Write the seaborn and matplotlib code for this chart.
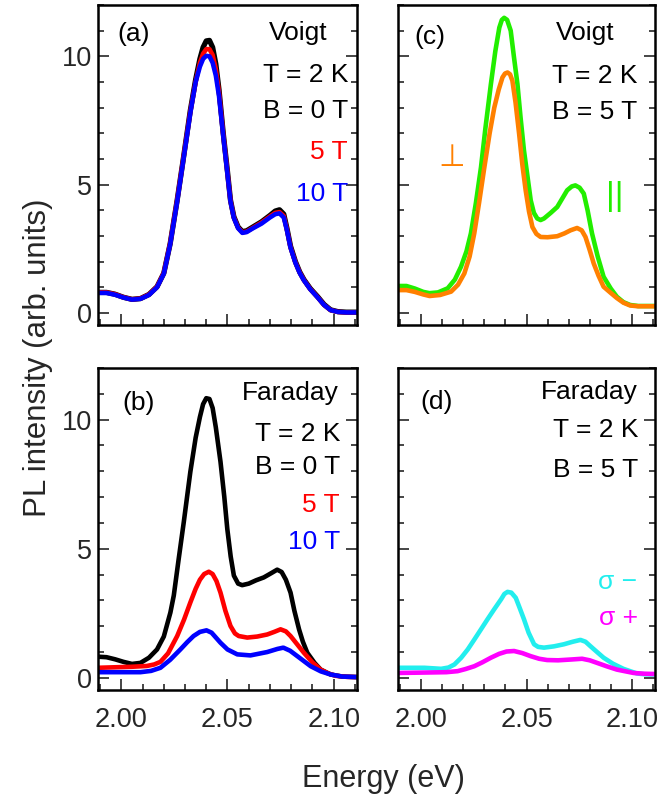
import numpy as np
import pandas as pd
import matplotlib
matplotlib.use("Agg")
import matplotlib.pyplot as plt
from matplotlib.ticker import MultipleLocator
import seaborn as sns

# ---------------- data ----------------
# (a) Voigt, B = 0, 5, 10 T
x_a = [1.989, 1.993, 1.997, 2.001, 2.005, 2.009, 2.013, 2.0168, 2.020, 2.023,
       2.0263, 2.029, 2.0325, 2.035, 2.037, 2.0385, 2.040, 2.0415, 2.043, 2.0445,
       2.046, 2.048, 2.050, 2.0514, 2.053, 2.055, 2.057, 2.059, 2.062, 2.066,
       2.070, 2.0725, 2.0745, 2.0765, 2.078, 2.0797, 2.082, 2.084, 2.086, 2.089,
       2.0924, 2.0955, 2.0986, 2.102, 2.106, 2.111]
black_a = [0.80, 0.80, 0.73, 0.61, 0.53, 0.56, 0.72, 1.02, 1.55, 2.70,
           4.40, 5.90, 7.90, 9.10, 9.90, 10.35, 10.60, 10.62, 10.35, 9.70,
           8.70, 7.00, 5.50, 4.40, 3.75, 3.35, 3.17, 3.20, 3.35, 3.55,
           3.80, 3.97, 4.02, 3.85, 3.30, 2.60, 2.00, 1.60, 1.30, 0.95,
           0.64, 0.33, 0.12, 0.05, 0.03, 0.03]
red_a = [0.80, 0.80, 0.73, 0.61, 0.53, 0.56, 0.72, 1.02, 1.56, 2.72,
         4.40, 5.90, 7.85, 9.00, 9.75, 10.10, 10.28, 10.28, 10.05, 9.50,
         8.60, 6.95, 5.45, 4.38, 3.72, 3.32, 3.14, 3.17, 3.32, 3.52,
         3.76, 3.90, 3.93, 3.78, 3.25, 2.56, 1.97, 1.58, 1.28, 0.93,
         0.62, 0.31, 0.11, 0.04, 0.02, 0.02]
blue_a = [0.78, 0.78, 0.71, 0.60, 0.52, 0.55, 0.70, 1.00, 1.53, 2.68,
          4.35, 5.85, 7.80, 9.00, 9.60, 9.90, 10.02, 10.00, 9.75, 9.25,
          8.45, 6.90, 5.40, 4.35, 3.70, 3.30, 3.12, 3.15, 3.30, 3.48,
          3.72, 3.85, 3.88, 3.72, 3.22, 2.54, 1.95, 1.56, 1.27, 0.92,
          0.61, 0.31, 0.11, 0.04, 0.02, 0.02]

# (b) Faraday, B = 0, 5, 10 T
x_bk_b = [1.989, 1.993, 1.997, 2.001, 2.005, 2.009, 2.013, 2.0168, 2.020, 2.0231,
          2.0247, 2.027, 2.0294, 2.0325, 2.035, 2.037, 2.0385, 2.040, 2.0415, 2.043,
          2.0445, 2.0467, 2.0485, 2.0499, 2.0515, 2.053, 2.055, 2.0569, 2.060, 2.0635,
          2.0671, 2.0705, 2.0734, 2.0755, 2.0775, 2.0797, 2.0815, 2.0837, 2.0855, 2.0876,
          2.091, 2.0939, 2.0986, 2.104, 2.111]
black_b = [0.82, 0.80, 0.72, 0.62, 0.54, 0.58, 0.78, 1.10, 1.60, 2.53,
           3.19, 4.60, 6.03, 7.98, 9.30, 10.10, 10.60, 10.83, 10.80, 10.45,
           9.70, 8.37, 7.00, 5.77, 4.70, 3.96, 3.65, 3.59, 3.65, 3.78,
           3.89, 4.05, 4.19, 4.10, 3.80, 3.30, 2.60, 1.88, 1.40, 0.97,
           0.58, 0.32, 0.13, 0.05, 0.03]
x_rd_b = [1.989, 1.997, 2.005, 2.012, 2.0155, 2.0184, 2.022, 2.0263, 2.0295, 2.0325,
          2.035, 2.037, 2.039, 2.0412, 2.043, 2.0448, 2.0467, 2.049, 2.0514, 2.0535,
          2.0553, 2.0593, 2.064, 2.0687, 2.072, 2.075, 2.0775, 2.0797, 2.083, 2.086,
          2.090, 2.0939, 2.0975, 2.101, 2.106, 2.111]
red_b = [0.39, 0.41, 0.43, 0.46, 0.52, 0.62, 0.95, 1.62, 2.25, 2.92,
         3.45, 3.80, 4.02, 4.11, 4.02, 3.75, 3.30, 2.60, 2.01, 1.72,
         1.62, 1.56, 1.60, 1.68, 1.78, 1.88, 1.80, 1.62, 1.28, 0.97,
         0.60, 0.32, 0.17, 0.08, 0.04, 0.03]
x_bl_b = [1.989, 2.000, 2.009, 2.014, 2.0184, 2.023, 2.0278, 2.031, 2.034, 2.037,
          2.0401, 2.0425, 2.0467, 2.050, 2.0546, 2.0608, 2.0687, 2.0735, 2.0763, 2.0795,
          2.0829, 2.0892, 2.094, 2.0986, 2.104, 2.111]
blue_b = [0.22, 0.22, 0.22, 0.27, 0.39, 0.70, 1.10, 1.38, 1.62, 1.78,
          1.84, 1.75, 1.36, 1.10, 0.91, 0.87, 1.00, 1.12, 1.17, 1.05,
          0.84, 0.45, 0.25, 0.13, 0.05, 0.03]

# (c) Voigt, B = 5 T, parallel / perpendicular
x_gr_c = [1.989, 1.993, 1.997, 2.001, 2.004, 2.008, 2.0126, 2.016, 2.0189, 2.0215,
          2.0236, 2.026, 2.0284, 2.0305, 2.0331, 2.0352, 2.0371, 2.0383, 2.0394, 2.0408,
          2.0425, 2.044, 2.0457, 2.0472, 2.0488, 2.0505, 2.052, 2.0535, 2.0551, 2.0567,
          2.0583, 2.0615, 2.0646, 2.0693, 2.0715, 2.0732, 2.0752, 2.0772, 2.079, 2.0811,
          2.0838, 2.0866, 2.090, 2.0929, 2.096, 2.0992, 2.103, 2.111]
green_c = [1.05, 1.05, 0.95, 0.82, 0.77, 0.80, 0.96, 1.30, 1.80, 2.40,
           3.10, 4.30, 5.68, 7.20, 8.92, 10.20, 11.12, 11.42, 11.50, 11.42,
           11.00, 10.00, 8.92, 7.60, 6.33, 5.30, 4.39, 3.90, 3.68, 3.62,
           3.68, 3.90, 4.13, 4.78, 4.93, 4.97, 4.88, 4.65, 4.00, 3.10,
           2.20, 1.41, 0.95, 0.63, 0.42, 0.31, 0.27, 0.27]
x_or_c = [1.989, 1.993, 1.997, 2.001, 2.004, 2.009, 2.0142, 2.0175, 2.0205, 2.023,
          2.0252, 2.0275, 2.030, 2.0325, 2.0347, 2.0368, 2.0386, 2.0398, 2.041, 2.0422,
          2.0433, 2.0448, 2.0465, 2.048, 2.0496, 2.0512, 2.0528, 2.0547, 2.0567, 2.060,
          2.0646, 2.068, 2.0709, 2.074, 2.0762, 2.078, 2.080, 2.0819, 2.0842, 2.0866,
          2.090, 2.0929, 2.096, 2.0992, 2.103, 2.111]
orange_c = [0.89, 0.89, 0.82, 0.72, 0.66, 0.70, 0.83, 1.10, 1.54, 2.20,
            3.10, 4.30, 5.68, 7.00, 8.00, 8.70, 9.18, 9.33, 9.37, 9.30,
            9.05, 8.20, 6.98, 5.80, 4.78, 3.95, 3.35, 3.08, 2.96, 2.95,
            2.99, 3.10, 3.22, 3.31, 3.22, 2.96, 2.45, 1.93, 1.45, 1.02,
            0.78, 0.58, 0.40, 0.29, 0.26, 0.26]

# (d) Faraday, B = 5 T, sigma- / sigma+
x_cy_d = [1.989, 2.0016, 2.0095, 2.013, 2.0158, 2.019, 2.0221, 2.0252, 2.0284, 2.0315,
          2.0347, 2.038, 2.0395, 2.041, 2.0428, 2.0449, 2.0468, 2.0488, 2.051, 2.0536,
          2.0555, 2.0583, 2.063, 2.0677, 2.072, 2.0756, 2.078, 2.0803, 2.0835, 2.0866,
          2.091, 2.096, 2.1024, 2.106, 2.111]
cyan_d = [0.39, 0.39, 0.35, 0.40, 0.52, 0.78, 1.10, 1.48, 1.88, 2.27,
          2.66, 3.05, 3.25, 3.33, 3.30, 3.10, 2.70, 2.27, 1.75, 1.30,
          1.20, 1.17, 1.22, 1.30, 1.40, 1.47, 1.40, 1.23, 1.00, 0.78,
          0.55, 0.35, 0.17, 0.14, 0.13]
x_mg_d = [1.989, 2.005, 2.012, 2.0173, 2.021, 2.0252, 2.029, 2.0331, 2.037, 2.0405,
          2.0441, 2.048, 2.052, 2.056, 2.0598, 2.065, 2.071, 2.0764, 2.080, 2.0835,
          2.088, 2.0929, 2.1008, 2.106, 2.111]
magenta_d = [0.19, 0.21, 0.22, 0.26, 0.34, 0.45, 0.60, 0.78, 0.93, 1.02,
             1.04, 0.96, 0.84, 0.74, 0.69, 0.68, 0.71, 0.74, 0.68, 0.58,
             0.45, 0.32, 0.19, 0.16, 0.15]

x_ticks = [2.00, 2.05, 2.10]
x_ticklabels = ["2.00", "2.05", "2.10"]
y_ticks = [0, 5, 10]

# ---------------- style ----------------
sns.set_theme(style="ticks")
plt.rcParams['font.family'] = ['Liberation Sans', 'DejaVu Sans']
plt.rcParams['axes.linewidth'] = 1.8

fig = plt.figure(figsize=(6.63, 8.0), dpi=100)
W, H = 663.0, 800.0


def make_ax(l, r, t, b):
    return fig.add_axes([l / W, 1 - b / H, (r - l) / W, (b - t) / H])


ax_a = make_ax(98, 357, 5, 325)
ax_c = make_ax(398, 655, 5, 325)
ax_b = make_ax(98, 357, 368, 690)
ax_d = make_ax(398, 655, 368, 690)

LW = 3.3


def draw(ax, x, y, color, lw=LW):
    df = pd.DataFrame({"E": x, "I": y})
    sns.lineplot(data=df, x="E", y="I", ax=ax, color=color, lw=lw,
                 sort=False, solid_capstyle="butt", solid_joinstyle="round")


draw(ax_a, x_a, black_a, "black", 3.8)
draw(ax_a, x_a, red_a, "#ff0000")
draw(ax_a, x_a, blue_a, "#0000ff")

draw(ax_b, x_bk_b, black_b, "black")
draw(ax_b, x_rd_b, red_b, "#ff0000")
draw(ax_b, x_bl_b, blue_b, "#0000ff")

draw(ax_c, x_gr_c, green_c, "#22ee00")
draw(ax_c, x_or_c, orange_c, "#ff8000")

draw(ax_d, x_cy_d, cyan_d, "#22eeee")
draw(ax_d, x_mg_d, magenta_d, "#ff00ff")

TICK_FS = 19.5
for ax in (ax_a, ax_b, ax_c, ax_d):
    ax.set_xlim(1.989, 2.111)
    ax.set_ylim(-0.47, 12.0)
    ax.set_xlabel("")
    ax.set_ylabel("")
    ax.set_xticks(x_ticks)
    ax.xaxis.set_minor_locator(MultipleLocator(0.01))
    ax.set_yticks(y_ticks)
    ax.yaxis.set_minor_locator(MultipleLocator(1))
    ax.tick_params(which="major", direction="in", length=8, width=1.2,
                   labelsize=TICK_FS, right=True, top=False)
    ax.tick_params(which="minor", direction="in", length=4, width=1.2,
                   right=True, top=False)
    ax.tick_params(axis="x", which="major", pad=12)
    ax.tick_params(axis="y", which="major", pad=4)
    for s in ax.spines.values():
        s.set_linewidth(1.8)
        s.set_color("black")

for ax in (ax_a, ax_c):
    ax.set_xticklabels([])
for ax in (ax_c, ax_d):
    ax.set_yticklabels([])
for ax in (ax_b, ax_d):
    ax.set_xticklabels(x_ticklabels)

FS = 19


def ptext(px, py, s, color="black", ha="right", fs=FS):
    # px, py in figure pixel coords
    fig.text(px / W, 1 - py / H, s, color=color, ha=ha, va="center", fontsize=fs)


# panel (a)
ptext(117, 34, "(a)", ha="left")
ptext(298, 33, "Voigt", ha="center")
ptext(348, 75, "T = 2 K")
ptext(348, 111, "B = 0 T")
ptext(348, 152, "5 T", color="#ff0000")
ptext(348, 194, "10 T", color="#0000ff")

# panel (c)
ptext(414, 37, "(c)", ha="left")
ptext(585, 33, "Voigt", ha="center")
ptext(637, 76, "T = 2 K")
ptext(637, 112, "B = 5 T")
ptext(452, 158, "\u22a5", color="#ff8000", ha="center", fs=22)
ptext(615, 196, "||", color="#22ee00", ha="center", fs=24)

# panel (b)
ptext(122, 403, "(b)", ha="left")
ptext(339, 393, "Faraday")
ptext(340, 434, "T = 2 K")
ptext(340, 467, "B = 0 T")
ptext(340, 505, "5 T", color="#ff0000")
ptext(340, 542, "10 T", color="#0000ff")

# panel (d)
ptext(420, 402, "(d)", ha="left")
ptext(638, 392, "Faraday")
ptext(638, 430, "T = 2 K")
ptext(638, 470, "B = 5 T")
ptext(637, 582, "\u03c3 \u2212", color="#22eeee")
ptext(638, 618, "\u03c3 +", color="#ff00ff")

fig.text(383 / W, 1 - 787 / H, "Energy (eV)", ha="center", va="baseline", fontsize=22)
fig.text(38 / W, 1 - 358 / H, "PL intensity (arb. units)", ha="center", va="center",
         rotation=90, fontsize=22.5)

fig.savefig("out.png", dpi=100)
